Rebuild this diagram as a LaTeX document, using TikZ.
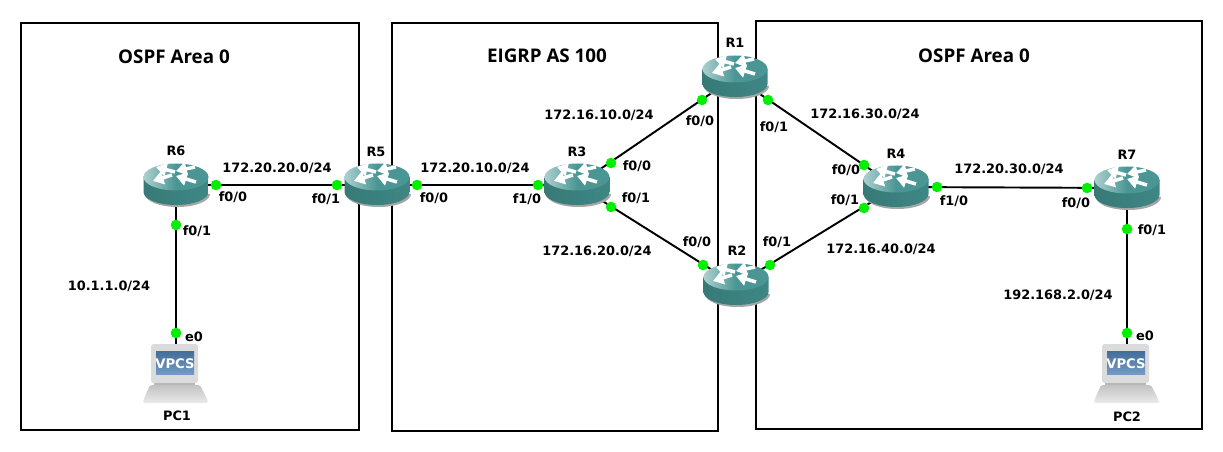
\documentclass[tikz,border=0pt]{standalone}
\usepackage{fontspec}
\setmainfont{DejaVu Sans}
\newfontfamily\titlefont{Open Sans}
\usetikzlibrary{arrows.meta}
\definecolor{routertop}{HTML}{4A9695}
\definecolor{routerbody}{HTML}{3E8785}
\definecolor{portgreen}{HTML}{00F000}
\definecolor{screenblue}{HTML}{4F81B5}
\tikzset{
  areabox/.style={draw=black, line width=1.1pt},
  link/.style={draw=black, line width=1.1pt},
  port/.style={circle, fill=portgreen, inner sep=0pt, minimum size=6pt},
  hub/.style={inner sep=0pt, minimum size=2pt},
  lbl/.style={font=\bfseries\fontsize{7.35}{9}\selectfont, inner sep=0pt},
  areatitle/.style={font=\titlefont\bfseries\fontsize{10.7}{12}\selectfont, inner sep=0pt},
  routerarrow/.style={white, line width=2pt, -{Triangle[length=6pt,width=7.5pt]}},
  router/.pic={
    \fill[black!35] (-31,9) -- (-31,9) arc[start angle=180,end angle=0,x radius=32.5,y radius=13] -- (34,9) -- cycle;
    \shade[left color=routerbody!90!black, middle color=routerbody!90!white, right color=routerbody] (-32.5,-8) -- (-32.5,7) arc[start angle=180,end angle=0,x radius=32.5,y radius=13] -- (32.5,-8) -- cycle;
    \shade[left color=routertop!45!white, right color=routertop, middle color=routertop] (0,-8) ellipse[x radius=32.5,y radius=13.5];
    \draw[routerarrow] (-1,-13) -- (-20,-18);
    \draw[routerarrow] (-4,-10) -- (-23,-4);
    \draw[routerarrow] (19,-18) -- (0,-14);
    \draw[routerarrow] (20,-3) -- (0,-9);
  },
  vpcs/.pic={
    \fill[black!14, rounded corners=1.5pt] (-25,-30) rectangle (22,9);
    \fill[black!28] (-22,9) rectangle (19,11);
    \shade[top color=screenblue!85!black, bottom color=screenblue!80!white] (-20,-23) rectangle (18,0);
    \node[font=\bfseries\fontsize{7.5}{9}\selectfont, text=white, inner sep=0pt] at (-1,-10) {VPCS};
    \shade[top color=black!24, bottom color=black!8, rounded corners=1pt] (-26,11) -- (24,11) -- (32,27) -- (32,29) -- (-33,29) -- (-33,27) -- cycle;
  },
}
\begin{document}
\begin{tikzpicture}[x=0.02cm,y=-0.02cm]
  \useasboundingbox (0,0) rectangle (1223,452);

  % Area frames
  \draw[areabox] (21,23) rectangle (359,430);
  \draw[areabox] (392,23) rectangle (718,431);
  \draw[areabox] (756,21) rectangle (1202,429);

  % Device anchors
  \node[hub] (R1) at (735,77) {};
  \node[hub] (R2) at (736,285) {};
  \node[hub] (R3) at (577,185) {};
  \node[hub] (R4) at (896,187) {};
  \node[hub] (R5) at (377,185) {};
  \node[hub] (R6) at (176,185) {};
  \node[hub] (R7) at (1127,188) {};
  \node[hub] (PC1) at (176,374) {};
  \node[hub] (PC2) at (1127,374) {};

  % Links
  \draw[link] (R6) -- (R5);
  \draw[link] (R6) -- (PC1);
  \draw[link] (R5) -- (R3);
  \draw[link] (R3) -- (R1);
  \draw[link] (R3) -- (R2);
  \draw[link] (R1) -- (R4);
  \draw[link] (R2) -- (R4);
  \draw[link] (R4) -- (R7);
  \draw[link] (R7) -- (PC2);

  % Devices
  \pic at (R1) {router};
  \pic at (R2) {router};
  \pic at (R3) {router};
  \pic at (R4) {router};
  \pic at (R5) {router};
  \pic at (R6) {router};
  \pic at (R7) {router};
  \pic at (PC1) {vpcs};
  \pic at (PC2) {vpcs};

  % Interface dots
  \node[port] (p6a) at (216,185) {};
  \node[port] (p6b) at (176,225) {};
  \node[port] (p1e) at (176,333) {};
  \node[port] (p5a) at (337,185) {};
  \node[port] (p5b) at (417,185) {};
  \node[port] (p3a) at (538,185) {};
  \node[port] (p3b) at (611,163) {};
  \node[port] (p3c) at (611,207) {};
  \node[port] (p1a) at (702,100) {};
  \node[port] (p1b) at (768,100) {};
  \node[port] (p2a) at (703,265) {};
  \node[port] (p2b) at (770,265) {};
  \node[port] (p4a) at (864,165) {};
  \node[port] (p4b) at (864,208) {};
  \node[port] (p4c) at (937,187) {};
  \node[port] (p7a) at (1087,188) {};
  \node[port] (p7b) at (1127,229) {};
  \node[port] (p2e) at (1127,333) {};

  % Area titles
  \node[areatitle] (t1) at (174,57) {OSPF Area 0};
  \node[areatitle] (t2) at (547,56) {EIGRP AS 100};
  \node[areatitle] (t3) at (974,56) {OSPF Area 0};

  % Device names
  \node[lbl] (nR1) at (735,43) {R1};
  \node[lbl] (nR2) at (737,251) {R2};
  \node[lbl] (nR3) at (577,152) {R3};
  \node[lbl] (nR4) at (896,154) {R4};
  \node[lbl] (nR5) at (376,152) {R5};
  \node[lbl] (nR6) at (176,151) {R6};
  \node[lbl] (nR7) at (1127,155) {R7};
  \node[lbl] (nPC1) at (177,416) {PC1};
  \node[lbl] (nPC2) at (1127,417) {PC2};

  % Networks
  \node[lbl] (n1) at (277,168) {172.20.20.0/24};
  \node[lbl] (n2) at (475,168) {172.20.10.0/24};
  \node[lbl] (n3) at (599,115) {172.16.10.0/24};
  \node[lbl] (n4) at (597,251) {172.16.20.0/24};
  \node[lbl] (n5) at (865,114) {172.16.30.0/24};
  \node[lbl] (n6) at (881,249) {172.16.40.0/24};
  \node[lbl] (n7) at (1009,169) {172.20.30.0/24};
  \node[lbl] (n8) at (109,286) {10.1.1.0/24};
  \node[lbl] (n9) at (1058,295) {192.168.2.0/24};

  % Interface names
  \node[lbl] (l1) at (233,197) {f0/0};
  \node[lbl] (l2) at (197,231) {f0/1};
  \node[lbl] (l3) at (194,337) {e0};
  \node[lbl] (l4) at (326,199) {f0/1};
  \node[lbl] (l5) at (434,198) {f0/0};
  \node[lbl] (l6) at (527,199) {f1/0};
  \node[lbl] (l7) at (637,166) {f0/0};
  \node[lbl] (l8) at (636,198) {f0/1};
  \node[lbl] (l9) at (700,121) {f0/0};
  \node[lbl] (l10) at (774,127) {f0/1};
  \node[lbl] (l11) at (697,242) {f0/0};
  \node[lbl] (l12) at (777,242) {f0/1};
  \node[lbl] (l13) at (846,170) {f0/0};
  \node[lbl] (l14) at (845,200) {f0/1};
  \node[lbl] (l15) at (954,201) {f1/0};
  \node[lbl] (l16) at (1076,203) {f0/0};
  \node[lbl] (l17) at (1152,230) {f0/1};
  \node[lbl] (l18) at (1145,336) {e0};
\end{tikzpicture}
\end{document}
